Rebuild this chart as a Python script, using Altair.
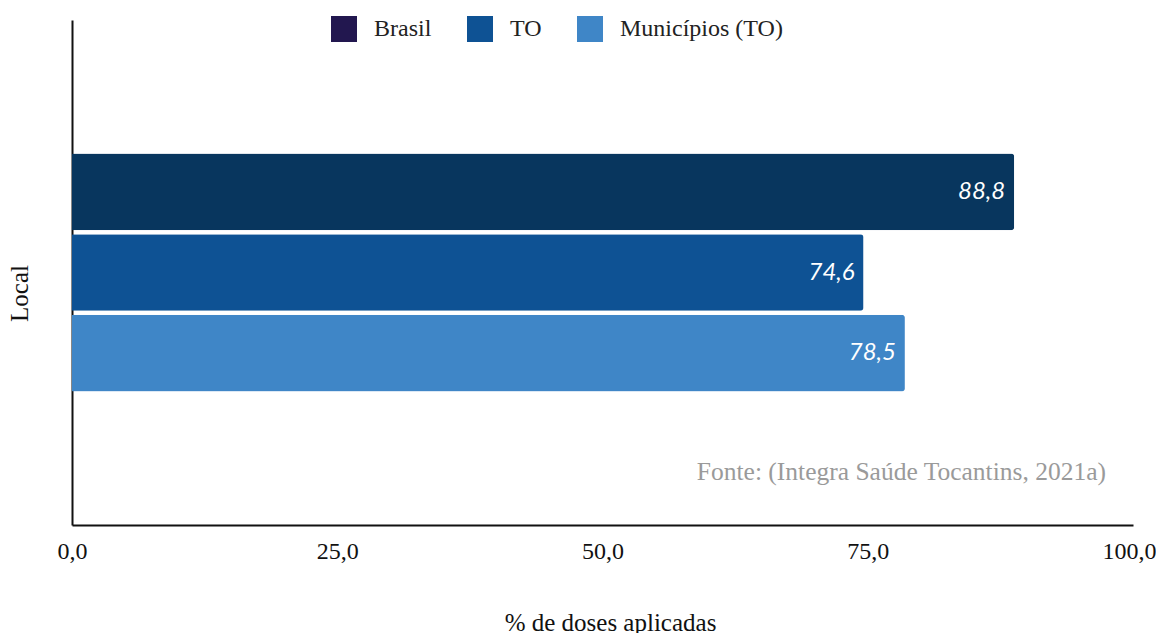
import altair as alt
import pandas as pd

series = ["Brasil", "TO", "Municípios (TO)"]
values = [88.8, 74.6, 78.5]
bar_colors = ["#08365e", "#0e5294", "#3f86c7"]
legend_colors = ["#22174f", "#0e5294", "#3f86c7"]
labels = ["88,8", "74,6", "78,5"]
x_ticks = [0, 25, 50, 75, 100]
source_note = "Fonte: (Integra Saúde Tocantins, 2021a)"

df = pd.DataFrame({"local": ["Local"] * 3, "serie": series, "valor": values, "rotulo": labels})

serif = "Liberation Serif"

x_enc = alt.X(
    "valor:Q",
    scale=alt.Scale(domain=[0, 100], nice=False),
    axis=alt.Axis(
        values=x_ticks,
        labelExpr="replace(format(datum.value, '.1f'), '.', ',')",
        title="% de doses aplicadas",
        titleFont=serif, titleFontSize=25, titleFontWeight="normal", titleColor="#111",
        titlePadding=47, titleX=538, titleAnchor="middle",
        labelFont=serif, labelFontSize=24, labelColor="#111", labelPadding=14,
        labelOffset=alt.ConditionalAxisNumber(
            condition={"test": "datum.value == 100", "value": -4}, value=0),
        ticks=False, grid=False, domainColor="#111", domainWidth=2,
        labelFlush=False,
    ),
)
y_enc = alt.Y(
    "local:N",
    scale=alt.Scale(paddingInner=0, paddingOuter=0.561),
    axis=alt.Axis(
        labels=False, ticks=False, grid=False, title="Local",
        titleFont=serif, titleFontSize=25, titleFontWeight="normal", titleColor="#111",
        titlePadding=40, titleY=273, domainColor="#111", domainWidth=2,
    ),
)
yoff = alt.YOffset("serie:N", sort=series,
                   scale=alt.Scale(paddingInner=0.05, paddingOuter=0))

bars = alt.Chart(df).mark_bar(cornerRadiusEnd=3).encode(
    x=x_enc, y=y_enc, yOffset=yoff,
    color=alt.Color("serie:N", sort=series,
                    scale=alt.Scale(domain=series, range=bar_colors), legend=None),
)

legend_layer = alt.Chart(df).mark_bar(opacity=0).encode(
    x=x_enc, y=y_enc, yOffset=yoff,
    fill=alt.Fill("serie:N", sort=series,
                  scale=alt.Scale(domain=series, range=legend_colors),
                  legend=alt.Legend(
                      title=None, orient="none", direction="horizontal",
                      legendX=259, legendY=-4,
                      symbolType="square", symbolSize=676, symbolOpacity=1,
                      symbolStrokeWidth=0,
                      labelFont=serif, labelFontSize=24, labelColor="#222",
                      labelOffset=17, columnPadding=35, labelLimit=400,
                  )),
)

text = alt.Chart(df).mark_text(
    align="right", baseline="middle", dx=-9, color="white",
    font="Lato", fontStyle="italic", fontSize=24,
).encode(x=x_enc, y=y_enc, yOffset=yoff, text="rotulo:N")

note = alt.Chart(pd.DataFrame({"t": [source_note]})).mark_text(
    align="right", baseline="middle", font=serif, fontSize=25.5, color="#9a9a9a",
).encode(x=alt.value(1034), y=alt.value(452), text="t:N")

chart = alt.layer(bars, legend_layer, text, note).resolve_scale(
    color="independent", fill="independent"
).properties(
    width=1061, height=505,
    padding={"left": 64, "top": 12, "right": 23, "bottom": 108},
    autosize=alt.AutoSizeParams(type="none"),
).configure_view(stroke=None)

chart.save("out.html", embed_options={"renderer": "svg", "actions": False})
